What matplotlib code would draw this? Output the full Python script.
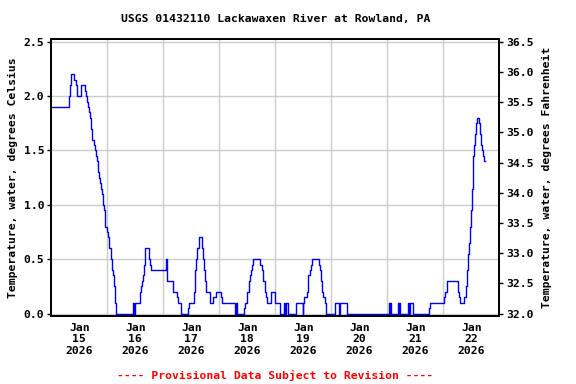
import matplotlib
matplotlib.use('Agg')
import matplotlib.pyplot as plt
import matplotlib.dates as mdates
import numpy as np

# water temperature (deg C), step changes
# hours since 2026-01-15 00:00 at which the reading changes
hours = [0, 7.5, 8.1, 8.4, 9.9, 10.4, 10.8, 12.6, 14.3, 14.8, 15.2, 15.6, 16.0,
         16.5, 16.9, 17.3, 18.2, 18.6, 19.0, 19.4, 19.9, 20.3, 20.7, 21.1, 21.6,
         22.0, 22.4, 22.8, 23.1, 23.7, 24.1, 24.6, 25.6, 26.0, 26.4, 26.9, 27.3,
         27.7, 35.1, 35.6, 35.9, 37.8, 38.2, 38.6, 39.0, 39.4, 39.6, 39.9, 40.1,
         40.3, 41.8, 42.2, 42.9, 49.1, 49.4, 49.7, 52.3, 54.0, 54.4, 55.7, 58.5,
         59.0, 61.1, 61.4, 61.7, 62.1, 62.5, 63.1, 63.5, 64.5, 65.1, 65.5, 65.9,
         66.3, 67.9, 69.5, 70.6, 72.7, 73.2, 78.6, 79.1, 79.4, 82.5, 83.1, 84.0,
         84.8, 85.2, 85.7, 86.1, 86.5, 89.6, 90.2, 90.8, 91.5, 92.2, 92.6, 94.2,
         95.9, 98.0, 99.9, 100.3, 100.6, 101.5, 104.7, 107.7, 108.0, 108.5, 109.4,
         109.8, 110.2, 110.7, 111.3, 111.9, 114.7, 115.1, 115.6, 116.0, 116.5,
         117.1, 117.9, 121.5, 123.4, 123.8, 126.6, 144.6, 145.0, 145.2, 145.6,
         148.6, 149.0, 149.2, 149.6, 152.7, 153.5, 153.7, 154.9, 161.7, 162.3,
         168.1, 168.6, 169.4, 174.4, 174.9, 175.3, 177.0, 177.5, 178.0, 178.5,
         178.9, 179.3, 179.7, 180.2, 180.7, 181.2, 181.4, 181.9, 182.4, 183.1,
         183.6, 184.0, 184.4, 184.8, 185.3, 185.7]
temps = [1.9, 2.0, 2.1, 2.2, 2.15, 2.1, 2.0, 2.1, 2.05, 2.0, 1.95, 1.9, 1.85,
         1.8, 1.7, 1.6, 1.55, 1.5, 1.45, 1.4, 1.3, 1.25, 1.2, 1.15, 1.1,
         1.0, 0.95, 0.9, 0.8, 0.75, 0.7, 0.6, 0.5, 0.4, 0.35, 0.25, 0.1,
         0.0, 0.1, 0.0, 0.1, 0.15, 0.2, 0.25, 0.3, 0.35, 0.4, 0.45, 0.5,
         0.6, 0.5, 0.45, 0.4, 0.5, 0.4, 0.3, 0.2, 0.15, 0.1, 0.0, 0.05,
         0.1, 0.2, 0.3, 0.4, 0.5, 0.6, 0.65, 0.7, 0.6, 0.5, 0.4, 0.3,
         0.2, 0.1, 0.15, 0.2, 0.15, 0.1, 0.0, 0.1, 0.0, 0.05, 0.1, 0.2,
         0.3, 0.35, 0.4, 0.45, 0.5, 0.45, 0.4, 0.3, 0.2, 0.15, 0.1, 0.2,
         0.1, 0.0, 0.1, 0.0, 0.1, 0.0, 0.1, 0.0, 0.1, 0.15, 0.2,
         0.3, 0.35, 0.4, 0.45, 0.5, 0.45, 0.4, 0.3, 0.2, 0.15,
         0.1, 0.0, 0.1, 0.0, 0.1, 0.0, 0.1, 0.0, 0.1, 0.0,
         0.1, 0.0, 0.1, 0.0, 0.1, 0.0, 0.1, 0.0, 0.05, 0.1,
         0.15, 0.2, 0.3, 0.2, 0.15, 0.1, 0.15, 0.25, 0.4, 0.55,
         0.65, 0.8, 0.95, 1.15, 1.45, 1.55, 1.65, 1.75, 1.8, 1.75,
         1.65, 1.55, 1.5, 1.45, 1.4, 1.4]

start = np.datetime64('2026-01-15T00:00')
days = ['2026-01-%02d' % d for d in range(15, 24)]

times = start + (np.array(hours) * 60).astype(int).astype('timedelta64[m]')

font = 'DejaVu Sans Mono'
fs = 8.2

fig = plt.figure(figsize=(5.76, 3.84), dpi=100)
ax = fig.add_axes([0.0891, 0.1779, 0.7778, 0.7198])

ax.plot(times, temps, drawstyle='steps-post', color='#0000ff', lw=1.0)

ymin, ymax = -0.02, 2.523
ax.set_ylim(ymin, ymax)
ax.set_xlim(np.datetime64(days[0]), np.datetime64(days[-1]))
ax.set_yticks([0.0, 0.5, 1.0, 1.5, 2.0, 2.5])
ax.set_yticklabels(['0.0', '0.5', '1.0', '1.5', '2.0', '2.5'],
                   fontfamily=font, fontweight='bold', fontsize=fs)

# gridlines at midnight, labels at noon
ax.set_xticks([mdates.date2num(np.datetime64(d)) for d in days[1:-1]], minor=True)
ax.set_xticks([mdates.date2num(np.datetime64(d) + np.timedelta64(12, 'h')) for d in days[:-1]])
ax.set_xticklabels(['Jan\n%s\n2026' % d[-2:] for d in days[:-1]],
                   fontfamily=font, fontweight='bold', fontsize=fs)
ax.tick_params(axis='x', which='both', length=0, pad=5)
ax.tick_params(axis='y', length=3, width=1, pad=2)
ax.grid(True, axis='y', color='#cccccc', lw=1)
ax.grid(True, axis='x', which='minor', color='#cccccc', lw=1)
ax.set_axisbelow(True)
for s in ax.spines.values():
    s.set_linewidth(1.3)

ax.set_ylabel('Temperature, water, degrees Celsius', fontfamily=font,
              fontweight='bold', fontsize=fs, labelpad=4)

ax2 = ax.twinx()
ax2.set_ylim(32 + 1.8 * ymin, 32 + 1.8 * ymax)
fticks = [32.0, 32.5, 33.0, 33.5, 34.0, 34.5, 35.0, 35.5, 36.0, 36.5]
ax2.set_yticks(fticks)
ax2.set_yticklabels(['%.1f' % f for f in fticks], fontfamily=font,
                    fontweight='bold', fontsize=fs)
ax2.tick_params(axis='y', length=3, width=1, pad=2)
ax2.set_ylabel('Temperature, water, degrees Fahrenheit', fontfamily=font,
               fontweight='bold', fontsize=fs, labelpad=6)
for s in ax2.spines.values():
    s.set_linewidth(1.3)

fig.text(0.478, 0.95, 'USGS 01432110 Lackawaxen River at Rowland, PA',
         ha='center', va='center', fontfamily=font, fontweight='bold', fontsize=fs)
fig.text(0.478, 0.023, '---- Provisional Data Subject to Revision ----',
         ha='center', va='center', fontfamily=font, fontweight='bold',
         fontsize=fs, color='red')

fig.savefig('out.png', dpi=100)
